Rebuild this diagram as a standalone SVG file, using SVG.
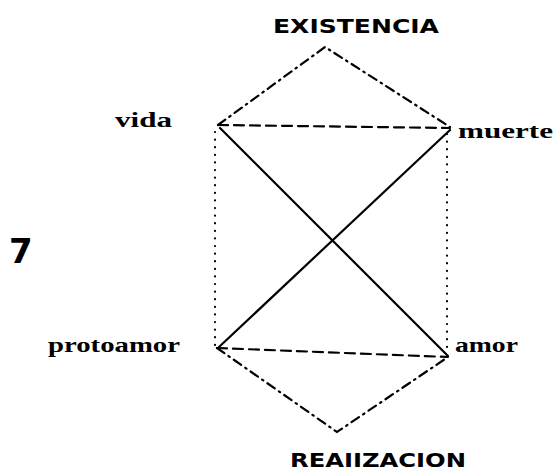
<svg xmlns="http://www.w3.org/2000/svg" width="557" height="473" viewBox="0 0 557 473">
<style>
.ln{fill:none;stroke:#000;stroke-width:2.2;stroke-linecap:round}
.dashdot{stroke-dasharray:9 5 1.5 5}
.dash{stroke-dasharray:10 6}
.dot{stroke-width:2.2;stroke-dasharray:0.1 7.5}
.lbl{font-family:"Liberation Serif",serif;font-weight:bold;fill:#000}
.cap{font-family:"DejaVu Sans","Liberation Sans",sans-serif;font-weight:bold;fill:#000}
</style>
<rect width="557" height="473" fill="#fff"/>
<g id="connectors">
<polyline class="ln dashdot" points="218,125 325,47 450,127"/>
<polyline class="ln dashdot" points="217,348 337,432 448,357"/>
<line class="ln dash" x1="218" y1="125" x2="450" y2="128"/>
<line class="ln dash" x1="217" y1="348" x2="448" y2="357"/>
<line class="ln dot" x1="215" y1="132" x2="215" y2="345"/>
<line class="ln dot" x1="447" y1="134" x2="447" y2="354"/>
<line class="ln" x1="220" y1="128" x2="448" y2="356"/>
<line class="ln" x1="450" y1="130" x2="219" y2="347"/>
</g>
<g id="existencia"><text class="cap" x="273" y="33" font-size="20" textLength="166" lengthAdjust="spacingAndGlyphs">EXISTENCIA</text></g>
<g id="realizacion"><text class="cap" x="290" y="467" font-size="20" textLength="176" lengthAdjust="spacingAndGlyphs">REAIIZACION</text></g>
<g id="vida"><text class="lbl" x="115" y="127" font-size="21" textLength="57" lengthAdjust="spacingAndGlyphs">vida</text></g>
<g id="muerte"><text class="lbl" x="458" y="138" font-size="21" textLength="95" lengthAdjust="spacingAndGlyphs">muerte</text></g>
<g id="protoamor"><text class="lbl" x="48" y="352" font-size="22" textLength="132" lengthAdjust="spacingAndGlyphs">protoamor</text></g>
<g id="amor"><text class="lbl" x="455" y="352" font-size="21" textLength="63" lengthAdjust="spacingAndGlyphs">amor</text></g>
<g id="seven"><text class="cap" x="9" y="263" font-size="34" font-weight="normal">7</text></g>
</svg>
